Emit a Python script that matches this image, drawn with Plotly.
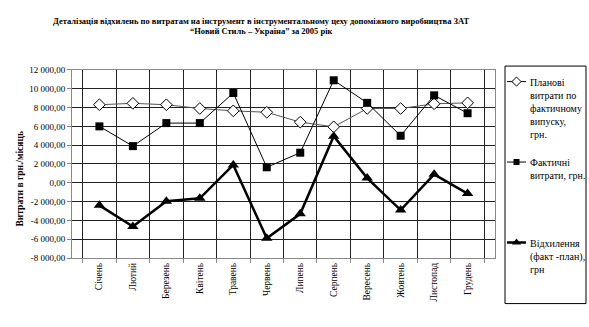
import plotly.graph_objects as go

# Monthly tool costs in the tool workshop, 2005 (UAH per month)
months = ["Січень", "Лютий", "Березень", "Квітень", "Травень", "Червень",
          "Липень", "Серпень", "Вересень", "Жовтень", "Листопад", "Грудень"]
plan_costs = [8300, 8450, 8300, 7900, 7650, 7500, 6450, 5950, 7900, 7900, 8400, 8500]
actual_costs = [6000, 3900, 6350, 6350, 9550, 1650, 3200, 10900, 8500, 5000, 9300, 7400]
deviation = [-2400, -4650, -1950, -1650, 1900, -5900, -3300, 4950, 500, -2900, 900, -1150]

y_ticks = list(range(-8000, 12001, 2000))
series_names = [
    "Планові<br>витрати по<br>фактичному<br>випуску,<br>грн.",
    "Фактичні<br>витрати, грн.",
    "Відхилення<br>(факт -план),<br>грн",
]


def fmt(v):
    return f"{v:,.2f}".replace(",", " ").replace(".", ",")


SERIF = "Liberation Serif"
W, H = 589, 327


def px_x(p):
    return p / W


def px_y(p):
    return 1 - p / H


# plot area and legend box, in figure pixels
PL, PR, PT, PB = 72, 495, 67, 261
LX0, LX1, LY0, LY1 = 505, 586, 63, 308

styles = [
    dict(mode="lines+markers", line=dict(color="#555555", width=1),
         marker=dict(symbol="diamond", size=9, color="white",
                     line=dict(color="black", width=1))),
    dict(mode="lines+markers", line=dict(color="black", width=1),
         marker=dict(symbol="square", size=8, color="black")),
    dict(mode="lines+markers", line=dict(color="black", width=2.5),
         marker=dict(symbol="triangle-up", size=10, color="black")),
]
legend_markers = [
    dict(symbol="diamond", size=7, color="white", line=dict(color="black", width=1)),
    dict(symbol="square", size=6, color="black"),
    dict(symbol="triangle-up", size=8, color="black"),
]

fig = go.Figure()
for vals, st in zip([plan_costs, actual_costs, deviation], styles):
    fig.add_trace(go.Scatter(x=months, y=vals, showlegend=False, **st))

# Legend drawn in its own pixel-scaled axis box on the right
leg_rows = [79, 162, 245]
for row, st, mk in zip(leg_rows, styles, legend_markers):
    fig.add_trace(go.Scatter(x=[507, 526], y=[row, row], xaxis="x2", yaxis="y2",
                             showlegend=False, hoverinfo="skip",
                             mode="lines", line=st["line"] | dict(color="black")))
    fig.add_trace(go.Scatter(x=[516.5], y=[row], xaxis="x2", yaxis="y2",
                             showlegend=False, hoverinfo="skip",
                             mode="markers", marker=mk))

annotations = []
for row, name in zip(leg_rows, series_names):
    annotations.append(dict(xref="x2", yref="y2", x=528, y=row - 7, text=name,
                            showarrow=False, xanchor="left", yanchor="top",
                            align="left", font=dict(family=SERIF, size=10, color="black")))

title_lines = [
    "Деталізація відхилень по витратам на інструмент в інструментальному цеху допоміжного виробництва ЗАТ",
    "“Новий Стиль – Україна” за 2005 рік",
]
for i, t in enumerate(title_lines):
    annotations.append(dict(xref="paper", yref="paper", x=px_x(261), y=px_y(17 + 10 * i),
                            text=f"<b>{t}</b>", showarrow=False, xanchor="center",
                            yanchor="middle", font=dict(family=SERIF, size=8.5, color="black")))

annotations.append(dict(xref="paper", yref="paper", x=px_x(20), y=px_y(180),
                        text="<b>Витрати в грн./місяць</b>", textangle=-90, showarrow=False,
                        xanchor="center", yanchor="middle",
                        font=dict(family=SERIF, size=9.5, color="black")))

fig.update_layout(
    width=W, height=H,
    margin=dict(l=0, r=0, t=0, b=0),
    paper_bgcolor="white", plot_bgcolor="white",
    font=dict(family=SERIF, size=9, color="black"),
    xaxis=dict(type="category", domain=[px_x(PL), px_x(PR)], tickson="boundaries",
               showgrid=True, gridcolor="#222222", gridwidth=1, tickangle=-90,
               ticks="outside", ticklen=4, tickcolor="#888888",
               showline=True, linecolor="#888888", mirror=True,
               tickfont=dict(family=SERIF, size=9.5)),
    yaxis=dict(range=[-8000, 12000], domain=[px_y(PB), px_y(PT)], tickvals=y_ticks,
               ticktext=[fmt(v) for v in y_ticks], showgrid=True,
               gridcolor="#222222", gridwidth=1, zeroline=False,
               ticks="outside", ticklen=4, tickcolor="#888888",
               showline=True, linecolor="#888888", mirror=True,
               tickfont=dict(family=SERIF, size=9)),
    xaxis2=dict(domain=[px_x(LX0), px_x(LX1)], range=[LX0, LX1],
                visible=False, fixedrange=True, anchor="y2"),
    yaxis2=dict(domain=[px_y(LY1), px_y(LY0)], range=[LY1, LY0],
                visible=False, fixedrange=True, anchor="x2"),
    shapes=[dict(type="rect", xref="paper", yref="paper",
                 x0=px_x(LX0), x1=px_x(LX1), y0=px_y(LY1), y1=px_y(LY0),
                 line=dict(color="black", width=1), fillcolor="rgba(0,0,0,0)")],
    annotations=annotations,
)

fig.write_html("out.html")
